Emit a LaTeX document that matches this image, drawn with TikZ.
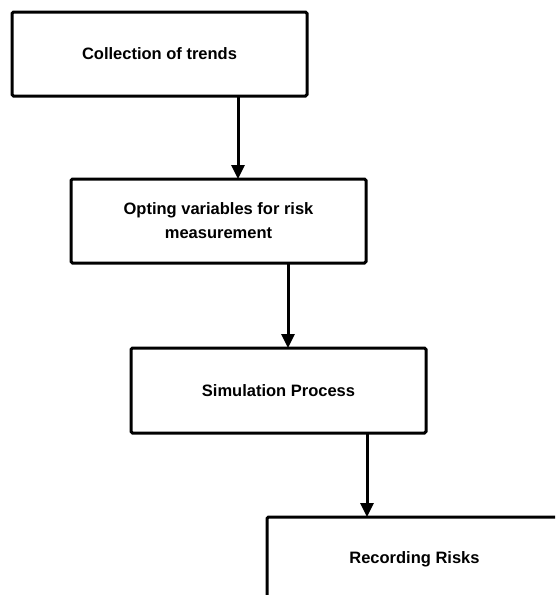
\documentclass[tikz,border=0pt]{standalone}
\usepackage{fontspec}
\setmainfont{Liberation Sans}
\usetikzlibrary{arrows.meta}
\begin{document}
\begin{tikzpicture}[x=1pt,y=-1pt,
  stepbox/.style={draw=black, line width=3pt, rounded corners=1.5pt, fill=white,
    minimum width=295pt, minimum height=84pt, inner sep=0pt, outer sep=0pt,
    align=center, font=\fontsize{16.5}{24}\selectfont\bfseries},
  flow/.style={line width=3pt, -{Triangle[width=13pt,length=14pt]}}]
  \useasboundingbox (0,0) rectangle (555,595);
  \clip (0,0) rectangle (555,595);
  \fill[white] (0,0) rectangle (555,595);
  % process steps
  \node[stepbox] (b1) at (159.5,54) {Collection of trends};
  \node[stepbox] (b2) at (218.5,221) {Opting variables for risk\\measurement};
  \node[stepbox, minimum height=85pt] (b3) at (278.5,390.5) {Simulation Process};
  \node[stepbox] (b4) at (414.5,559) {Recording Risks};
  % columns of the connectors
  \coordinate (c1) at (238,0);
  \coordinate (c2) at (288,0);
  \coordinate (c3) at (367,0);
  \draw[flow] (b1.south -| c1) -- (b2.north -| c1);
  \draw[flow] (b2.south -| c2) -- (b3.north -| c2);
  \draw[flow] (b3.south -| c3) -- (b4.north -| c3);
\end{tikzpicture}
\end{document}
